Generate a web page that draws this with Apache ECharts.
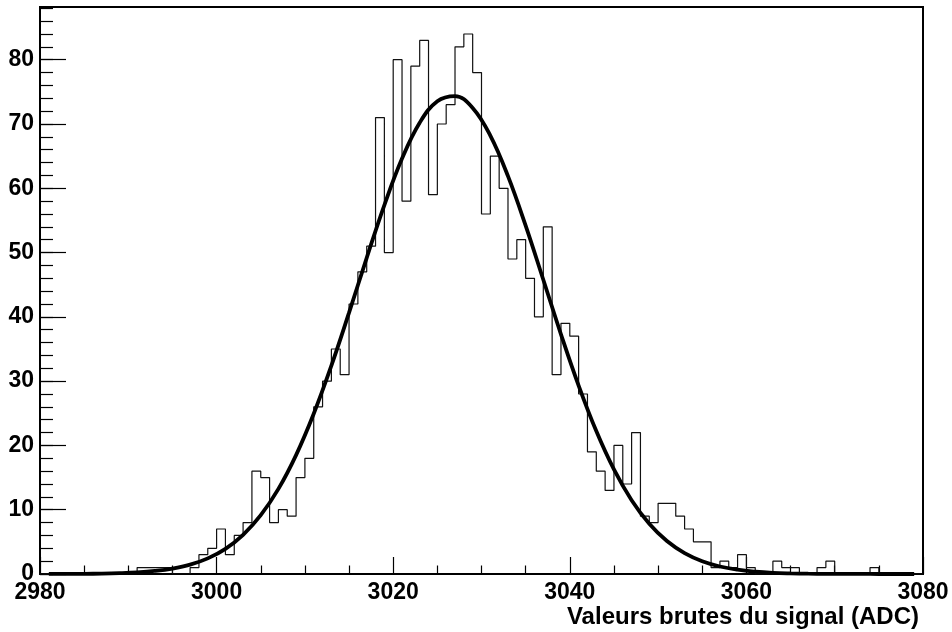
<!DOCTYPE html>
<html>
<head>
<meta charset="utf-8">
<title>Valeurs brutes du signal (ADC)</title>
<script src="https://cdn.jsdelivr.net/npm/echarts@6/dist/echarts.min.js"></script>
<style>
  html, body { margin: 0; padding: 0; background: #fff; }
  #chart { width: 952px; height: 632px; }
</style>
</head>
<body>
<div id="chart"></div>
<script>
// histogram, one ADC count per bin, first bin starts at 2980
const binLow = 2980
const binWidth = 1
const counts = [
    0, 0, 0, 0, 0, 0, 0, 0, 0, 0,          // 2980 - 2989
    0, 1, 1, 1, 1, 0, 0, 1, 3, 4,          // 2990 - 2999
    7, 3, 6, 8, 16, 15, 8, 10, 9, 15,      // 3000 - 3009
    18, 26, 30, 35, 31, 42, 47, 51, 71, 50, // 3010 - 3019
    80, 58, 79, 83, 59, 70, 73, 82, 84, 78, // 3020 - 3029
    56, 65, 60, 49, 52, 46, 40, 54, 31, 39, // 3030 - 3039
    37, 28, 19, 16, 13, 20, 14, 22, 9, 8,   // 3040 - 3049
    11, 11, 9, 7, 5, 5, 1, 2, 1, 3,        // 3050 - 3059
    1, 0, 0, 2, 1, 1, 0, 0, 1, 2,          // 3060 - 3069
    0, 0, 0, 0, 1, 0, 0, 0, 0, 0           // 3070 - 3079
]

// fitted gaussian, points
const fitX = [
    2981, 2983, 2985, 2987, 2989, 2991, 2993, 2995, 2997, 2999,
    3001, 3003, 3005, 3007, 3009, 3011, 3013, 3015, 3017, 3019,
    3021, 3023, 3025, 3027, 3029, 3031, 3033, 3035, 3037, 3039,
    3041, 3043, 3045, 3047, 3049, 3051, 3053, 3055, 3057, 3059,
    3061, 3063, 3065, 3067, 3069, 3071, 3073, 3075, 3077, 3079
]
const fitY = [
    0.01, 0.01, 0.03, 0.06, 0.13, 0.25, 0.47, 0.84, 1.45, 2.43,
    3.92, 6.10, 9.15, 13.24, 18.50, 24.93, 32.41, 40.65, 49.18, 57.39,
    64.62, 70.20, 73.55, 74.35, 72.50, 68.20, 61.89, 54.19, 45.77, 37.29,
    29.31, 22.23, 16.26, 11.47, 7.81, 5.13, 3.25, 1.99, 1.17, 0.67,
    0.37, 0.19, 0.10, 0.05, 0.02, 0.01, 0.01, 0, 0, 0
]

const xMin = 2980
const xMax = 3080
const yMax = 88.2
const xTitle = 'Valeurs brutes du signal (ADC)'

const font = "'Liberation Sans', Arial, Helvetica, sans-serif"

let histData = counts.map((c, i) => [binLow + i * binWidth, c])
histData.push([binLow + counts.length * binWidth, counts[counts.length - 1]])

const fitData = fitX.map((x, i) => [x, fitY[i]])

const chart = echarts.init(document.getElementById('chart'), null, { renderer: 'canvas' })

const option = {
    backgroundColor: '#fff',
    animation: false,
    grid: {
        left: 40,
        right: 29,
        top: 7,
        bottom: 58,
        show: true,
        borderColor: '#000',
        borderWidth: 2,
        containLabel: false
    },
    xAxis: {
        type: 'value',
        min: xMin,
        max: xMax,
        interval: 20,
        axisLine: { lineStyle: { color: '#000', width: 2 } },
        axisTick: { inside: true, length: 17, lineStyle: { color: '#000', width: 1.2 } },
        minorTick: { show: true, splitNumber: 4, length: 8.5, lineStyle: { color: '#000', width: 1.2 } },
        splitLine: { show: false },
        axisLabel: {
            margin: 7,
            color: '#000',
            fontFamily: font,
            fontWeight: 'bold',
            fontSize: 23,
            formatter: v => String(v)
        }
    },
    yAxis: [
        {
            type: 'value',
            min: 0,
            max: yMax,
            interval: 10,
            axisLine: { show: true, lineStyle: { color: '#000', width: 2 } },
            axisTick: { show: true, inside: true, length: 26, lineStyle: { color: '#000', width: 1.2 } },
            splitLine: { show: false },
            axisLabel: {
                margin: 6,
                showMaxLabel: false,
                color: '#000',
                fontFamily: font,
                fontWeight: 'bold',
                fontSize: 23,
                formatter: v => String(v)
            }
        },
        {
            // minor ticks every 2 counts
            type: 'value',
            position: 'left',
            min: 0,
            max: yMax,
            interval: 2,
            axisLine: { show: false },
            axisTick: { show: true, inside: true, length: 13, lineStyle: { color: '#000', width: 1.2 } },
            axisLabel: { show: false },
            splitLine: { show: false }
        }
    ],
    graphic: [
        {
            type: 'text',
            right: 33,
            top: 605,
            style: {
                text: xTitle,
                fill: '#000',
                font: 'bold 24px ' + font
            }
        }
    ],
    series: [
        {
            name: 'histogramme',
            type: 'line',
            step: 'end',
            data: histData,
            yAxisIndex: 0,
            showSymbol: false,
            lineStyle: { color: '#111', width: 1.2 },
            z: 2
        },
        {
            name: 'ajustement',
            type: 'line',
            data: fitData,
            yAxisIndex: 0,
            smooth: 0.4,
            showSymbol: false,
            lineStyle: { color: '#000', width: 3.8 },
            z: 3
        }
    ]
}

chart.setOption(option)
</script>
</body>
</html>
